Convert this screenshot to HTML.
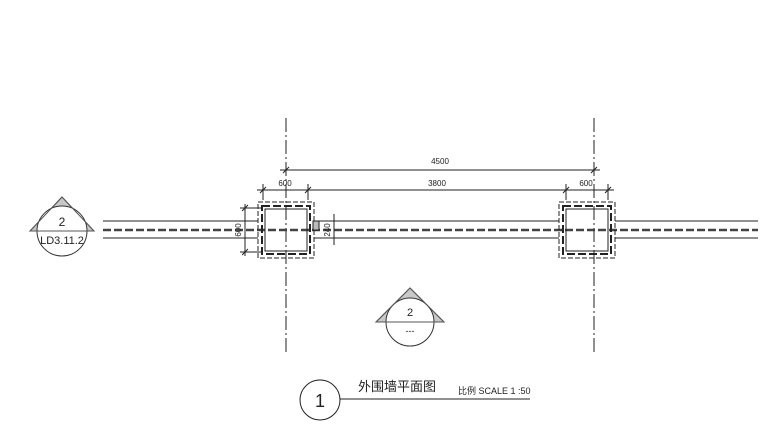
<!DOCTYPE html><html><head><style>body{margin:0;background:#fff}svg{display:block}text{font-family:"Liberation Sans","Noto Sans CJK SC",sans-serif;fill:#222}</style></head><body>
<svg width="780" height="435" viewBox="0 0 780 435" xmlns="http://www.w3.org/2000/svg" stroke="#222" fill="none" stroke-width="1">
<line x1="286" y1="118" x2="286" y2="355" stroke-dasharray="14,3,2,3"/>
<line x1="594" y1="118" x2="594" y2="355" stroke-dasharray="14,3,2,3"/>
<line x1="103" y1="221" x2="258" y2="221"/><line x1="103" y1="238" x2="258" y2="238"/>
<line x1="314" y1="221" x2="559" y2="221"/><line x1="314" y1="238" x2="559" y2="238"/>
<line x1="615" y1="221" x2="758" y2="221"/><line x1="615" y1="238" x2="758" y2="238"/>
<line x1="103" y1="230" x2="758" y2="230" stroke-width="2.5" stroke-dasharray="8,3" stroke="#444"/>
<rect x="258" y="202" width="56" height="56" stroke-dasharray="5,2"/>
<rect x="262" y="206" width="48" height="48" stroke-width="2" stroke-dasharray="8,3"/>
<rect x="265" y="209" width="42" height="42"/>
<rect x="559" y="202" width="56" height="56" stroke-dasharray="5,2"/>
<rect x="563" y="206" width="48" height="48" stroke-width="2" stroke-dasharray="8,3"/>
<rect x="566" y="209" width="42" height="42"/>
<rect x="313" y="221" width="6" height="9" fill="#bbb"/>
<line x1="280" y1="170" x2="600" y2="170"/>
<line x1="283" y1="173" x2="289" y2="167"/><line x1="591" y1="173" x2="597" y2="167"/>
<text x="440" y="164" font-size="8" text-anchor="middle" stroke="none">4500</text>
<line x1="257" y1="190" x2="614" y2="190"/>
<line x1="263" y1="184" x2="263" y2="200"/><line x1="308" y1="184" x2="308" y2="200"/>
<line x1="566" y1="184" x2="566" y2="200"/><line x1="608" y1="184" x2="608" y2="200"/>
<line x1="260" y1="193" x2="266" y2="187"/><line x1="305" y1="193" x2="311" y2="187"/><line x1="563" y1="193" x2="569" y2="187"/><line x1="605" y1="193" x2="611" y2="187"/>
<text x="285" y="186" font-size="8" text-anchor="middle" stroke="none">600</text>
<text x="437" y="186" font-size="8" text-anchor="middle" stroke="none">3800</text>
<text x="586" y="186" font-size="8" text-anchor="middle" stroke="none">600</text>
<line x1="245" y1="204" x2="245" y2="256"/>
<line x1="240" y1="208" x2="262" y2="208"/><line x1="240" y1="252" x2="262" y2="252"/>
<line x1="242" y1="211" x2="248" y2="205"/><line x1="242" y1="255" x2="248" y2="249"/>
<text transform="translate(241,230) rotate(-90)" font-size="8" text-anchor="middle" stroke="none">600</text>
<line x1="334" y1="214" x2="334" y2="245"/>
<line x1="322" y1="221" x2="338" y2="221"/><line x1="322" y1="238" x2="338" y2="238"/>
<text transform="translate(330,230) rotate(-90)" font-size="8" text-anchor="middle" stroke="none">240</text>
<polygon points="62,197 30,231 94,231" fill="#c8c8c8" stroke="#666"/>
<circle cx="62" cy="231" r="25" fill="#fff" stroke="#333"/>
<polygon points="62,197 30,231 94,231" fill="none" stroke="#555"/>
<text x="62" y="226" font-size="12" text-anchor="middle" stroke="none">2</text>
<text x="62" y="244" font-size="11" text-anchor="middle" stroke="none">LD3.11.2</text>
<polygon points="410,288 376,322 444,322" fill="#c8c8c8" stroke="#666"/>
<circle cx="410" cy="322" r="24" fill="#fff" stroke="#333"/>
<polygon points="410,288 376,322 444,322" fill="none" stroke="#555"/>
<text x="410" y="316" font-size="11" text-anchor="middle" stroke="none">2</text>
<text x="410" y="334" font-size="9" text-anchor="middle" stroke="none">---</text>
<circle cx="320" cy="400" r="20"/>
<line x1="340" y1="399" x2="530" y2="399"/>
<text x="320" y="407" font-size="18" text-anchor="middle" stroke="none">1</text>
<text x="358" y="391" font-size="13" stroke="none">外围墙平面图</text>
<text x="458" y="394" font-size="9" stroke="none">比例 SCALE 1 :50</text>
</svg></body></html>
